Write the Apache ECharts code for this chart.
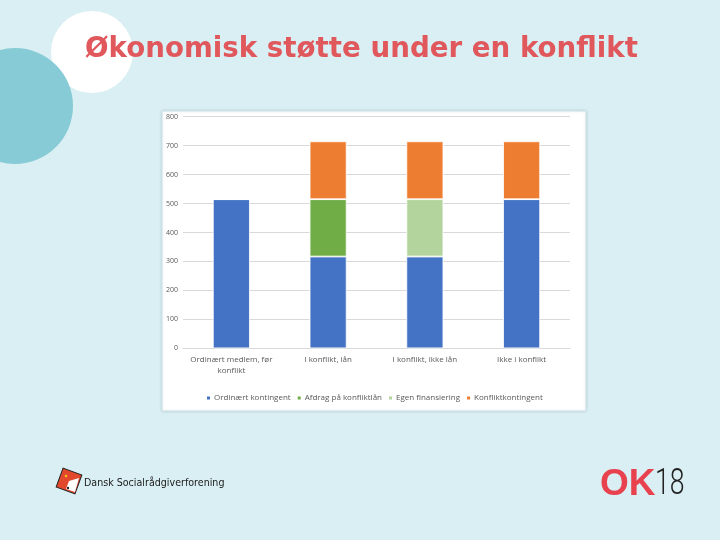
<!DOCTYPE html>
<html><head><meta charset="utf-8">
<script src="https://cdn.jsdelivr.net/npm/echarts@6/dist/echarts.min.js"></script>
<style>html,body{margin:0;padding:0;background:#DAEFF3;}#c{width:720px;height:540px;}</style>
</head><body><div id="c"></div>
<script>
const categories = ['Ordinært medlem, før\nkonflikt', 'I konflikt, lån', 'I konflikt, ikke lån', 'Ikke i konflikt'];
const seriesNames = ['Ordinært kontingent', 'Afdrag på konfliktlån', 'Egen finansiering', 'Konfliktkontingent'];
const ordinaert = [515, 317, 317, 515];
const afdrag = [0, 198, 0, 0];
const egen = [0, 0, 198, 0];
const konflikt = [0, 200, 200, 200];
const yTicks = [0, 100, 200, 300, 400, 500, 600, 700, 800];
const colors = ['#4472C4', '#70AD47', '#B4D49E', '#ED7D31'];

const chart = echarts.init(document.getElementById('c'));
const vals = [ordinaert, afdrag, egen, konflikt];
chart.setOption({
  backgroundColor: '#DAEFF3',
  animation: false,
  graphic: [
    {type:'circle', shape:{cx:92, cy:52, r:41}, style:{fill:'#ffffff'}, z:-10},
    {type:'circle', shape:{cx:15, cy:106, r:58}, style:{fill:'#86CBD5'}, z:-9},
    {type:'rect', shape:{x:162, y:111, width:424, height:300}, style:{fill:'#ffffff', stroke:'#C9E3E8', lineWidth:1, shadowBlur:3, shadowColor:'rgba(0,0,0,0.12)'}, z:-5},
    {type:'text', left:85, top:36, style:{text:'Økonomisk støtte under en konflikt', fill:'#E0575C', font:'bold 27.7px "DejaVu Sans", Verdana, sans-serif'}, z:10},
    // Dansk Socialrådgiverforening logo
    {type:'rect', shape:{x:-10, y:-10, width:20, height:20}, x:69, y:481, rotation:-0.35, style:{fill:'#E2492C', stroke:'#222', lineWidth:1}, z:10},
    {type:'polygon', shape:{points:[[69,481],[79,478],[75,492],[66,489]]}, style:{fill:'#ffffff'}, z:11},
    {type:'circle', shape:{cx:66, cy:476, r:1.2}, style:{fill:'#F5C518'}, z:12},
    {type:'circle', shape:{cx:68, cy:488, r:1.2}, style:{fill:'#222'}, z:12},
    {type:'text', left:84, top:478, style:{text:'Dansk Socialrådgiverforening', fill:'#1a1a1a', font:'10.6px "DejaVu Sans Condensed", "DejaVu Sans", sans-serif'}, z:10},
    // OK18 logo
    {type:'text', left:600, top:466, style:{text:'OK', fill:'#E8424F', font:'bold 37px "Liberation Sans", Arial, sans-serif'}, z:10},
    {type:'text', x:655, y:466, scaleX:0.72, style:{text:'18', fill:'#222', font:'300 37px "Roboto", "Liberation Sans", sans-serif'}, z:10}
  ],
  grid: {left:183, right:150, top:116.7, bottom:191.7, containLabel:false},
  legend: {
    data: seriesNames, bottom: 133, left: 200,
    itemWidth: 5, itemHeight: 5, itemGap: 5, icon: 'rect',
    textStyle: {fontSize: 8, color: '#595959', fontFamily: '"Open Sans", sans-serif', padding:[0,0,0,-2]}
  },
  xAxis: {
    type: 'category', data: categories,
    axisLine: {show:true, lineStyle:{color:'#D9D9D9'}}, axisTick:{show:false},
    axisLabel: {color:'#595959', fontSize:8, margin:6, interval:0, lineHeight:11, fontFamily:'"Open Sans", sans-serif'}
  },
  yAxis: {
    type: 'value', min: yTicks[0], max: yTicks[yTicks.length-1], interval: 100,
    axisLine:{show:false}, axisTick:{show:false},
    splitLine:{lineStyle:{color:'#D9D9D9', width:1}},
    axisLabel:{color:'#595959', fontSize:7, margin:5, fontFamily:'"Open Sans", sans-serif'}
  },
  series: seriesNames.map((n, i) => ({
    name: n, type: 'bar', stack: 'total', barWidth: 37,
    data: vals[i], itemStyle: {color: colors[i], borderColor: '#ffffff', borderWidth: 0.8}
  }))
});
</script></body></html>
